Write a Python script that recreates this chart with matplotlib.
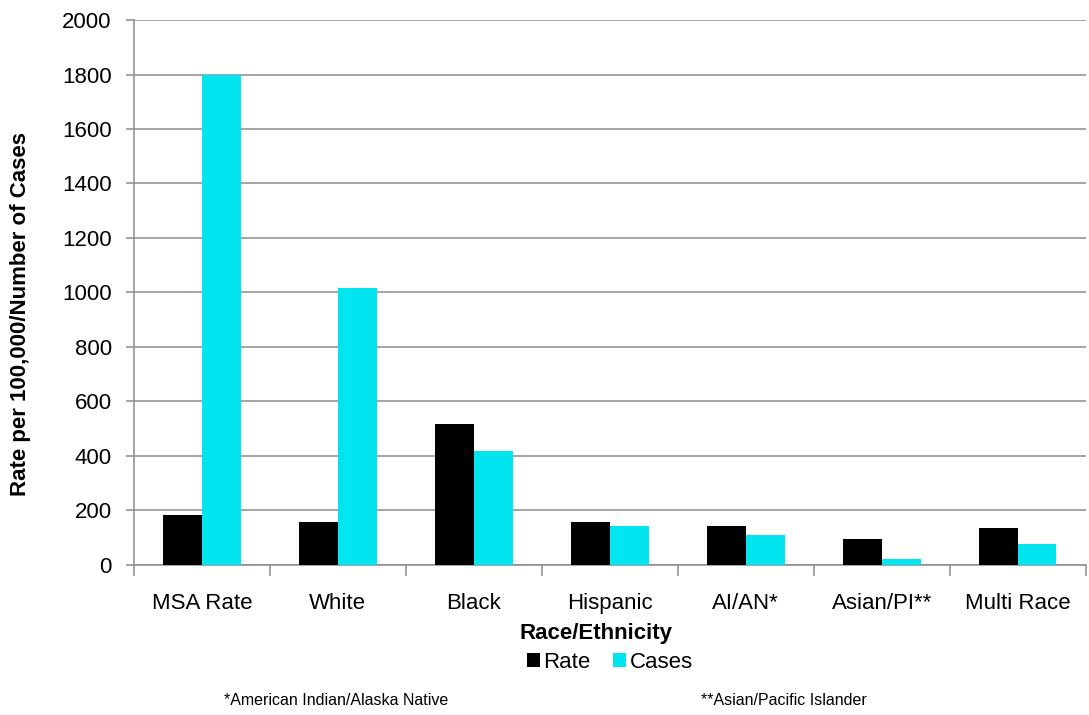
import matplotlib.pyplot as plt
import numpy as np

plt.rcParams['font.family'] = ['Liberation Sans', 'DejaVu Sans']

# Data
categories = ['MSA Rate', 'White', 'Black', 'Hispanic', 'AI/AN*', 'Asian/PI**', 'Multi Race']
rate = [182, 158, 517, 158, 141, 95, 137]
cases = [1800, 1016, 417, 144, 111, 20, 78]

fig = plt.figure(figsize=(10.89, 7.15), dpi=100)
ax = fig.add_axes([0.123, 0.21, 0.874, 0.762])

x = np.arange(len(categories))
w = 0.285
ax.bar(x - w / 2, rate, w, color='black', label='Rate', zorder=3)
ax.bar(x + w / 2, cases, w, color='#00e5f0', label='Cases', zorder=3)

ax.set_xlim(-0.5, len(categories) - 0.5)
ax.set_ylim(0, 2000)
ax.set_yticks(range(0, 2001, 200))
ax.yaxis.grid(True, color='#8c8c8c', linewidth=1.1, zorder=0)

ax.set_xticks(x)
ax.set_xticklabels(categories, fontsize=16)
ax.set_xticks(np.arange(len(categories) + 1) - 0.5, minor=True)
ax.tick_params(axis='x', which='major', length=0, pad=20)
ax.tick_params(axis='x', which='minor', length=8, color='#8c8c8c', width=1.1)
ax.tick_params(axis='y', length=6, color='#8c8c8c', width=1.1, labelsize=16, pad=10)

for s in ['top', 'right']:
    ax.spines[s].set_visible(False)
for s in ['left', 'bottom']:
    ax.spines[s].set_color('#8c8c8c')
    ax.spines[s].set_linewidth(1.1)

ax.set_ylabel('Rate per 100,000/Number of Cases', fontsize=16, fontweight='bold')
ax.yaxis.set_label_coords(-0.108, 0.46)
fig.text(0.547, 0.114, 'Race/Ethnicity', fontsize=16, fontweight='bold', ha='center', va='center')

ax.legend(loc='upper center', bbox_to_anchor=(0.5, -0.14), ncol=2, frameon=False,
          fontsize=16, handlelength=0.6, handleheight=0.6, handletextpad=0.15,
          columnspacing=1.0, borderpad=0)

fig.text(0.309, 0.02, '*American Indian/Alaska Native', fontsize=11.5,
         family=['Liberation Sans Narrow', 'Liberation Sans'], ha='center', va='center')
fig.text(0.72, 0.02, '**Asian/Pacific Islander', fontsize=11.5,
         family=['Liberation Sans Narrow', 'Liberation Sans'], ha='center', va='center')

fig.savefig('out.png', dpi=100)
